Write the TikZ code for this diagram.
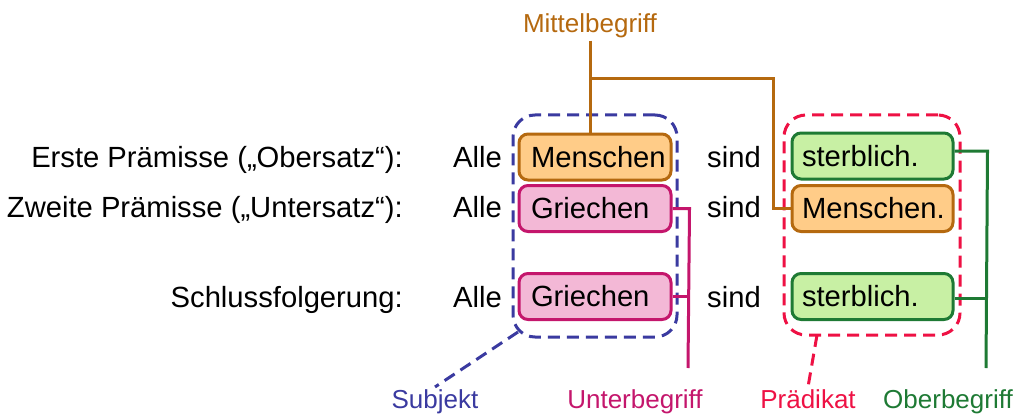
\documentclass[tikz,border=0pt]{standalone}
\usepackage{fontspec}
\setmainfont{Liberation Sans}
\definecolor{brn}{HTML}{B5690F}
\definecolor{brnfill}{HTML}{FFCC88}
\definecolor{mag}{HTML}{C4166C}
\definecolor{magfill}{HTML}{F3B8D6}
\definecolor{grn}{HTML}{1E7A34}
\definecolor{grnfill}{HTML}{C8F0A4}
\definecolor{blu}{HTML}{3A3AA0}
\definecolor{rd}{HTML}{EE1144}
\begin{document}
\begin{tikzpicture}[x=1pt,y=-1pt,
  big/.style={font=\fontsize{29.2}{34}\selectfont, inner sep=0pt},
  small/.style={font=\fontsize{26}{30}\selectfont, inner sep=2pt},
  termbox/.style={draw, line width=3pt, rounded corners=9pt, minimum height=46pt,
    font=\fontsize{29.2}{34}\selectfont, text height=20.9pt, text depth=0pt, align=left},
  leftbox/.style={termbox, inner xsep=12pt, text width=128pt},
  rightbox/.style={termbox, inner xsep=10pt, text width=141pt},
  brownbox/.style={draw=brn, fill=brnfill},
  magbox/.style={draw=mag, fill=magfill},
  grnbox/.style={draw=grn, fill=grnfill},
  conn/.style={line width=3pt},
  dashline/.style={line width=3pt, dash pattern=on 12pt off 7pt},
  group/.style={draw, dashline, rounded corners=22pt, inner sep=0pt}
]
\useasboundingbox (0,0) rectangle (1024,417);

% dashed groups
\node[group, draw=blu, minimum width=164pt, minimum height=222pt] (subj) at (595,226) {};
\node[group, draw=rd, minimum width=176pt, minimum height=220pt] (pred) at (872,225) {};

% row labels
\node[big, anchor=base east] (r1) at (403,167) {Erste Prämisse („Obersatz“):};
\node[big, anchor=base east] (r2) at (403,217) {Zweite Prämisse („Untersatz“):};
\node[big, anchor=base east] (r3) at (403,307) {Schlussfolgerung:};
\node[big, anchor=base west] (a1) at (453,167) {Alle};
\node[big, anchor=base west] (a2) at (453,217) {Alle};
\node[big, anchor=base west] (a3) at (453,307) {Alle};
\node[big, anchor=base west] (s1) at (707,167) {sind};
\node[big, anchor=base west] (s2) at (707,217) {sind};
\node[big, anchor=base west] (s3) at (707,307) {sind};

% term boxes
\node[leftbox, brownbox] (m1) at (595,157) {Menschen};
\node[leftbox, magbox] (g1) at (595,208.5) {Griechen};
\node[leftbox, magbox] (g2) at (595,296.5) {Griechen};
\node[rightbox, grnbox] (t1) at (872.5,156) {sterblich.};
\node[rightbox, brownbox] (m2) at (872.5,208.5) {Menschen.};
\node[rightbox, grnbox] (t2) at (872.5,296.5) {sterblich.};

% labels
\node[small, text=brn, anchor=base] (mb) at (590,33) {Mittelbegriff};
\node[small, text=blu, anchor=base] (sl) at (435,408) {Subjekt};
\node[small, text=mag, anchor=base] (ul) at (635,408) {Unterbegriff};
\node[small, text=rd, anchor=base] (pl) at (808,408) {Prädikat};
\node[small, text=grn, anchor=base] (ol) at (948,408) {Oberbegriff};

% Mittelbegriff connectors
\coordinate (mj) at (590,79);
\draw[conn, brn] (mb.south) -- (mb.south |- m1.north);
\draw[conn, brn] (mj) -| ([xshift=-17pt]m2.west) -- (m2.west);

% Unterbegriff connectors
\coordinate (ue) at (688,368);
\draw[conn, mag] (g1.east) -- ++(17,0) coordinate (uj) -- (ue);
\draw[conn, mag] (g2.east) -- (g2.east -| uj);

% Oberbegriff connectors
\coordinate (oe) at (986,368);
\draw[conn, grn] ([yshift=5pt]t1.east) -- ++(33,0) coordinate (oj) -- (oe);
\draw[conn, grn] ([yshift=-1.5pt]t2.east) -- ([yshift=-1.5pt]t2.east -| oj);

% pointers
\coordinate (sp) at (518,332);
\coordinate (pp) at (817,335);
\draw[dashline, blu] (sp) -- (sl.north);
\draw[dashline, rd] (pp) -- (pl.north);
\end{tikzpicture}
\end{document}
